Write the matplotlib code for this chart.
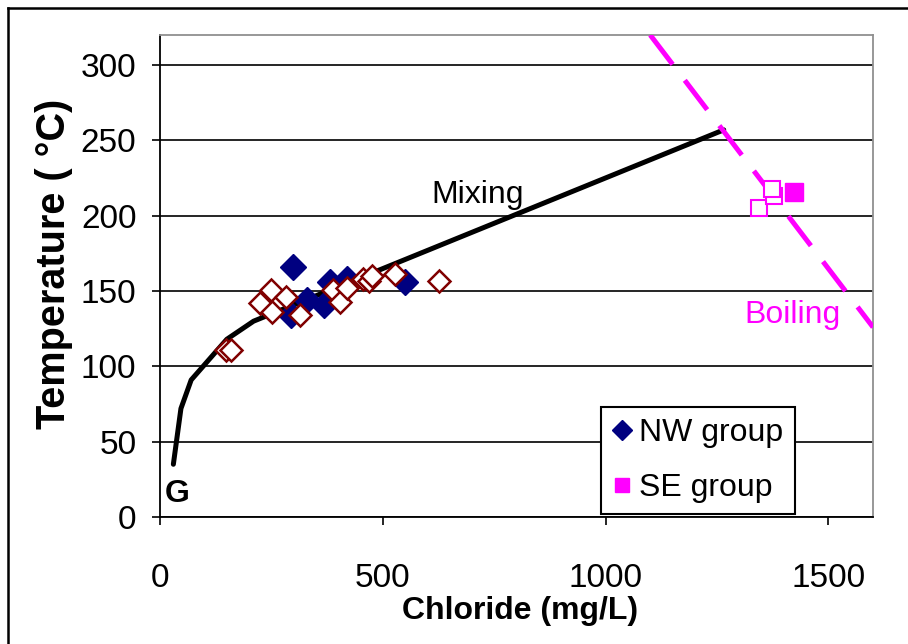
import matplotlib
matplotlib.use("Agg")
import matplotlib.pyplot as plt
from matplotlib.lines import Line2D

plt.rcParams['font.family'] = ['Liberation Sans', 'DejaVu Sans']

# mixing line from the dilute end-member G to the deep parent fluid
mix_cl = [30, 47, 70, 150, 210, 1265]
mix_t = [35, 72, 91, 118, 130, 257]

# boiling trend
boil_cl = [1100, 1600]
boil_t = [320, 126]

# NW group springs (filled diamonds)
nw_cl = [298, 295, 330, 368, 381, 420, 550]
nw_t = [166, 134, 144, 141, 156, 158, 156]

# NW group, other samples (open diamonds)
nw2_cl = [148, 160, 224, 250, 252, 283, 315, 388, 404, 419, 456, 468, 476, 527, 625]
nw2_t = [111, 111, 142, 151, 136, 146, 134, 151, 143, 152, 158, 157, 160, 161, 157]

# SE group (filled square) and other SE samples (open squares)
se_cl = [1423]
se_t = [216]
se2_cl = [1344, 1377, 1373]
se2_t = [205, 213, 218]

fig = plt.figure(figsize=(9.08, 6.44), dpi=100)
ax = fig.add_axes([0.1762, 0.1972, 0.7853, 0.7485])

ax.set_xlim(0, 1600)
ax.set_ylim(0, 320)
ax.set_xticks([0, 500, 1000, 1500])
ax.set_yticks(range(0, 301, 50))
ax.yaxis.grid(True, color='black', linewidth=1.2)
ax.set_axisbelow(True)

for side in ['left', 'bottom']:
    ax.spines[side].set_color('black')
    ax.spines[side].set_linewidth(1.3)
for side in ['top', 'right']:
    ax.spines[side].set_color('#909090')
    ax.spines[side].set_linewidth(1.3)

ax.tick_params(axis='both', direction='out', length=6, width=1.2, labelsize=24)
ax.tick_params(axis='y', pad=11)
ax.tick_params(axis='x', pad=27)

ax.plot(mix_cl, mix_t, color='black', linewidth=3.6, solid_capstyle='round', zorder=3)
ax.plot(boil_cl, boil_t, color='#FF00FF', linewidth=3.6, dashes=(7.4, 4), zorder=3)

ax.plot(nw_cl, nw_t, linestyle='none', marker='D', markersize=13,
        color='#000080', label='NW group', zorder=4)
ax.plot(nw2_cl, nw2_t, linestyle='none', marker='D', markersize=11.5,
        markerfacecolor='white', markeredgecolor='#800000', markeredgewidth=1.8, zorder=5)
ax.plot(se_cl, se_t, linestyle='none', marker='s', markersize=13.5,
        color='#FF00FF', label='SE group', zorder=4)
ax.plot(se2_cl, se2_t, linestyle='none', marker='s', markersize=12,
        markerfacecolor='white', markeredgecolor='#FF00FF', markeredgewidth=1.5, zorder=5)

ax.text(610, 214, 'Mixing', fontsize=23, va='center', ha='left', zorder=6)
ax.text(1312, 134, 'Boiling', fontsize=23, va='center', ha='left', color='#FF00FF', zorder=6)
ax.text(11, 15, 'G', fontsize=23, fontweight='bold', va='center', ha='left', zorder=6)

ax.set_xlabel('Chloride (mg/L)', fontsize=23, fontweight='bold')
ax.set_ylabel('Temperature ( °C)', fontsize=28.5, fontweight='bold')
ax.xaxis.set_label_coords(0.505, -0.163)
ax.yaxis.set_label_coords(-0.122, 0.525)

leg = ax.legend(loc='upper left', bbox_to_anchor=(0.6185, 0.228), fontsize=23,
                frameon=True, fancybox=False, framealpha=1, edgecolor='black',
                handlelength=0.6, handletextpad=0.25, borderpad=0.35,
                labelspacing=0.78, borderaxespad=0, markerscale=0.75)
leg.get_frame().set_linewidth(1.5)
leg.set_zorder(10)

# outer chart frame
fig.add_artist(Line2D([8 / 908, 8 / 908], [0, 1 - 8 / 644], color='black', linewidth=1.8))
fig.add_artist(Line2D([8 / 908, 1], [1 - 8 / 644, 1 - 8 / 644], color='black', linewidth=1.8))

fig.savefig('out.png', dpi=100)
